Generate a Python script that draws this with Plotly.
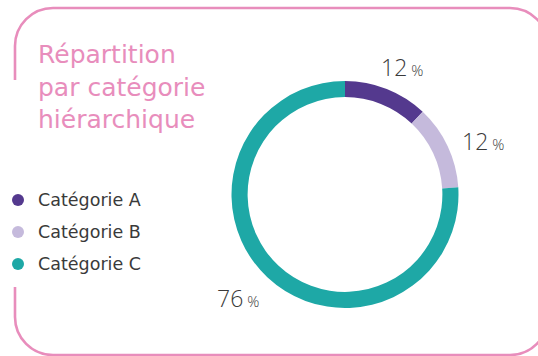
import plotly.graph_objects as go

# --- data ---
categories = ["Catégorie A", "Catégorie B", "Catégorie C"]
shares = [12, 12, 76]
colors = ["#54398e", "#c5badc", "#1ea8a6"]
title_lines = ["Répartition", "par catégorie", "hiérarchique"]

W, H = 538, 356
PINK = "#e88dbc"
TEXT = "#3a3a3a"
FONT = "DejaVu Sans"
NUM_FONT = "Open Sans"


def px(x):
    return x / W


def py(y):
    return 1 - y / H


fig = go.Figure()

# donut ring, starting at 12 o'clock and running clockwise
cx, cy, r_out = 345, 194.5, 113.5
fig.add_trace(go.Pie(
    labels=categories,
    values=shares,
    marker=dict(colors=colors, line=dict(width=0)),
    hole=0.858,
    sort=False,
    direction="clockwise",
    rotation=0,
    textinfo="none",
    hoverinfo="label+percent",
    showlegend=False,
    domain=dict(x=[px(cx - r_out), px(cx + r_out)],
                y=[py(cy + r_out), py(cy - r_out)]),
))

annotations = []
shapes = []

# percentage labels next to each slice
label_pos = [(402, 67), (483, 141), (238, 298)]
for v, (lx, ly) in zip(shares, label_pos):
    annotations.append(dict(
        x=px(lx), y=py(ly), xref="paper", yref="paper",
        text=f"{v}<span style='font-size:15px'> %</span>",
        showarrow=False, xanchor="center", yanchor="middle",
        font=dict(family=NUM_FONT, size=23, color=TEXT, weight=300),
    ))

# title block
annotations.append(dict(
    x=px(36), y=py(38), xref="paper", yref="paper",
    text="<br>".join(title_lines), align="left",
    showarrow=False, xanchor="left", yanchor="top",
    font=dict(family=FONT, size=25, color=PINK),
))

# hand-drawn legend with round swatches
for i, (name, col) in enumerate(zip(categories, colors)):
    y = 200 + i * 32
    rad = 6
    shapes.append(dict(
        type="circle", xref="paper", yref="paper",
        x0=px(18 - rad), x1=px(18 + rad), y0=py(y + rad), y1=py(y - rad),
        fillcolor=col, line=dict(width=0),
    ))
    annotations.append(dict(
        x=px(36), y=py(y), xref="paper", yref="paper",
        text=name, showarrow=False, xanchor="left", yanchor="middle",
        font=dict(family=FONT, size=17.5, color=TEXT),
    ))

# rounded frame, open on the left beside the title and legend
x0, x1, y0, y1, r = 15, 548, 8, 355, 38
k = 0.5523 * r


def P(x, y):
    return f"{px(x):.5f},{py(y):.5f}"


frame = (
    f"M {P(x0, 80)} L {P(x0, y0 + r)} "
    f"C {P(x0, y0 + r - k)} {P(x0 + r - k, y0)} {P(x0 + r, y0)} "
    f"L {P(x1 - r, y0)} "
    f"C {P(x1 - r + k, y0)} {P(x1, y0 + r - k)} {P(x1, y0 + r)} "
    f"L {P(x1, y1 - r)} "
    f"C {P(x1, y1 - r + k)} {P(x1 - r + k, y1)} {P(x1 - r, y1)} "
    f"L {P(x0 + r, y1)} "
    f"C {P(x0 + r - k, y1)} {P(x0, y1 - r + k)} {P(x0, y1 - r)} "
    f"L {P(x0, 287)}"
)
shapes.append(dict(type="path", xref="paper", yref="paper", path=frame,
                   line=dict(color=PINK, width=2.6)))

fig.update_layout(
    width=W, height=H,
    margin=dict(l=0, r=0, t=0, b=0),
    paper_bgcolor="white",
    plot_bgcolor="white",
    annotations=annotations,
    shapes=shapes,
)

fig.write_html("out.html", config={"displayModeBar": False})
